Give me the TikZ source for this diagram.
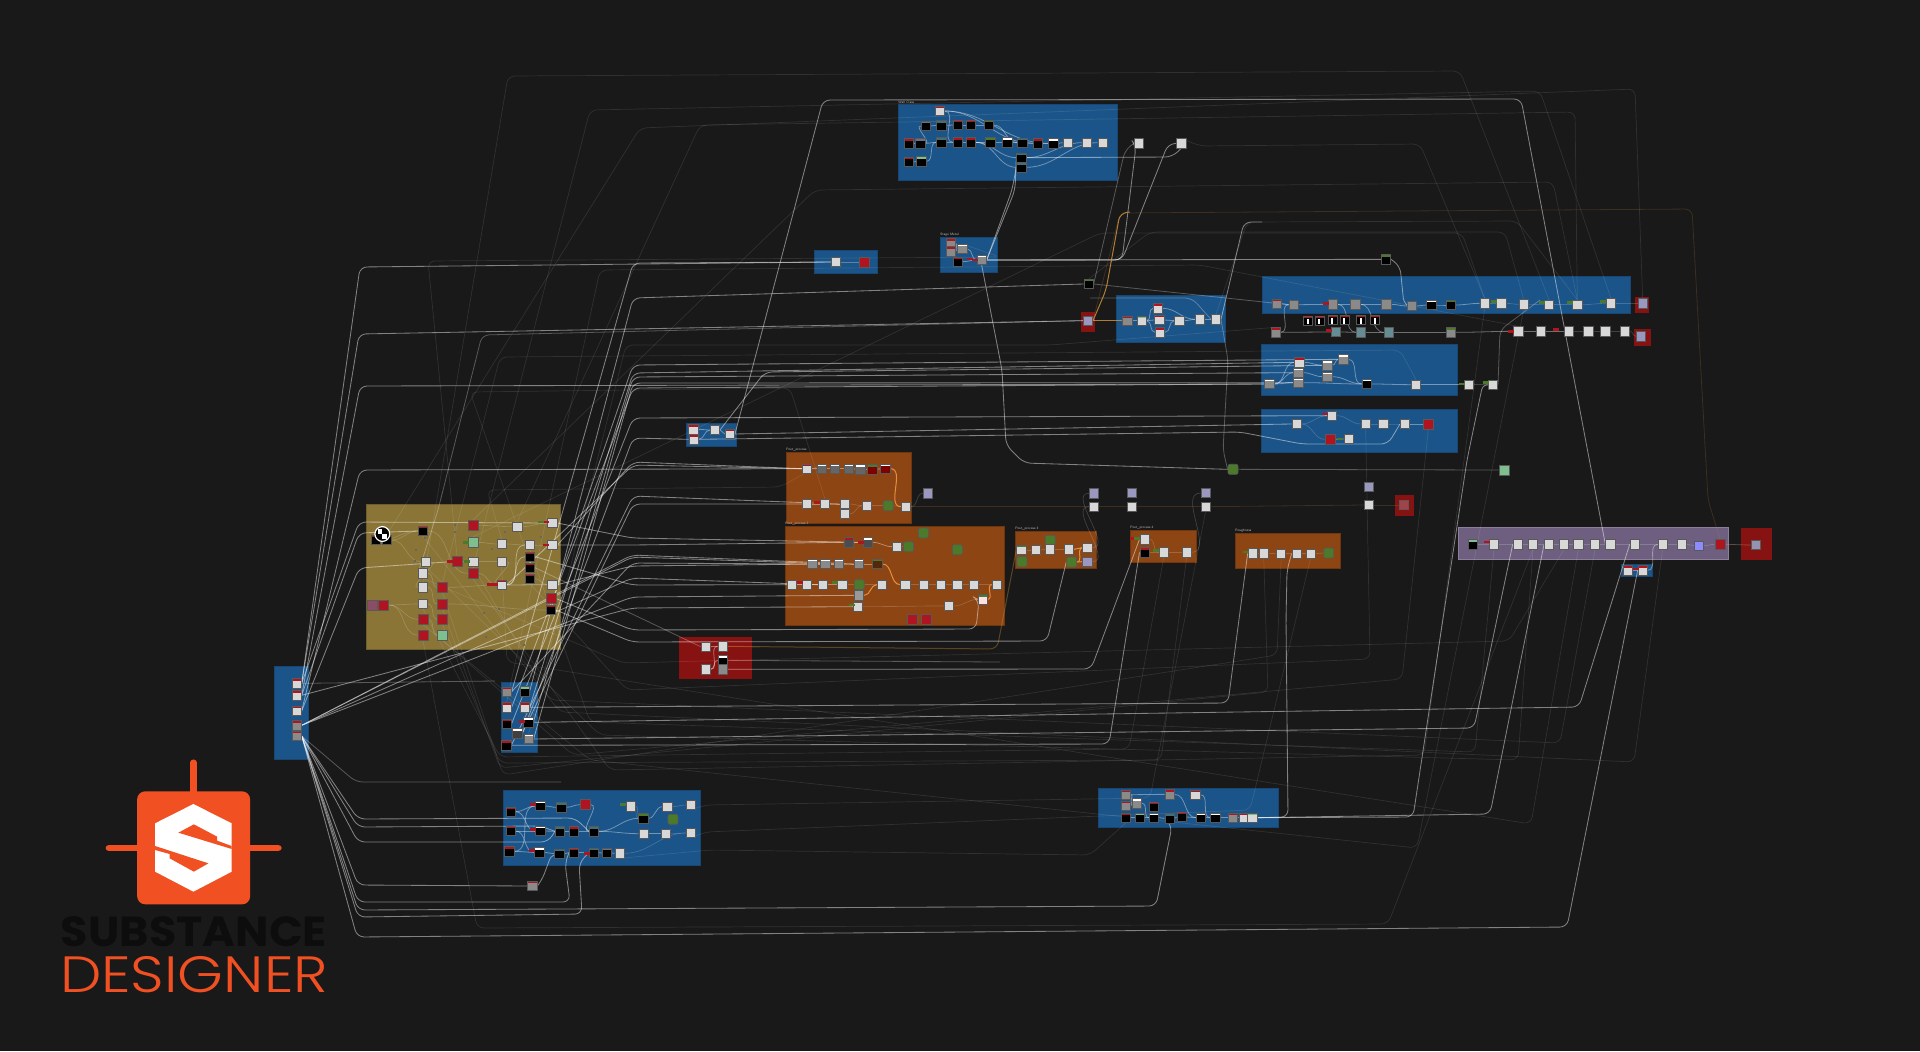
\documentclass[tikz,border=0pt]{standalone}
\usepackage{fontspec}
\newfontfamily\logobold{Poppins}
\newfontfamily\logolight{Poppins}[UprightFont=* Light]

\definecolor{bgdark}{HTML}{191919}
\definecolor{frblue}{HTML}{1B5488}
\definecolor{fryel}{HTML}{8A7537}
\definecolor{frora}{HTML}{8C4513}
\definecolor{frred}{HTML}{871212}
\definecolor{frpur}{HTML}{6E5F80}
\definecolor{logoor}{HTML}{F15023}
\definecolor{nwhite}{HTML}{D8D8D8}
\definecolor{ngrey}{HTML}{8A8A8A}
\definecolor{nred}{HTML}{B01420}
\definecolor{ngreen}{HTML}{4A7A2A}
\definecolor{nmint}{HTML}{7FBF8F}
\definecolor{nteal}{HTML}{3F6F78}
\definecolor{nslate}{HTML}{6A7088}
\definecolor{nlav}{HTML}{9A98C0}

\pgfdeclarelayer{under}
\pgfsetlayers{under,main}

\tikzset{
  frameb/.style={fill=frblue,draw=frblue!85!black,line width=.3pt},
  framey/.style={fill=fryel,draw=fryel!80!black,line width=.4pt},
  frameo/.style={fill=frora,draw=frora!80!black,line width=.3pt},
  framer/.style={fill=frred},
  framep/.style={fill=frpur,draw=frpur!80!white,line width=.3pt},
  gnode/.style={draw=black!65,line width=.4pt,minimum size=4.6pt,inner sep=0pt},
  wn/.style={gnode,fill=nwhite},
  gy/.style={gnode,fill=ngrey},
  bk/.style={gnode,fill=black},
  rn/.style={gnode,fill=nred,minimum size=5pt},
  gn/.style={gnode,fill=ngreen,rounded corners=1pt,minimum size=5pt},
  mn/.style={gnode,fill=nmint,minimum size=5pt},
  lv/.style={gnode,fill=nlav},
  hd/.style={path picture={\pgftransformreset
    \fill[#1] (path picture bounding box.north west) rectangle
      ([yshift=-.9pt]path picture bounding box.north east);}},
  pat/.style={gnode,fill=black,path picture={\pgftransformreset
    \fill[nred] (path picture bounding box.north west) rectangle
      ([yshift=-.9pt]path picture bounding box.north east);
    \fill[white] ([xshift=1.6pt,yshift=-1.3pt]path picture bounding box.north west) rectangle
      ([xshift=2.6pt,yshift=.5pt]path picture bounding box.south west);}},
  chipr/.style={fill=nred,inner sep=0pt,minimum width=3pt,minimum height=1.2pt},
  chipg/.style={fill=ngreen,inner sep=0pt,minimum width=3pt,minimum height=1.2pt},
  dotn/.style={fill=black!60,inner sep=0pt,minimum size=1pt},
  wireb/.style={draw=white,draw opacity=.46,line width=.42pt,rounded corners=3.5pt},
  wirem/.style={draw=white,draw opacity=.28,line width=.4pt,rounded corners=3.5pt},
  wiref/.style={draw=white,draw opacity=.1,line width=.35pt,rounded corners=3.5pt},
  wireo/.style={draw={rgb,255:red,214;green,150;blue,60},draw opacity=.8,line width=.5pt,rounded corners=3.5pt},
  wirefo/.style={draw={rgb,255:red,200;green,130;blue,60},draw opacity=.2,line width=.4pt,rounded corners=3.5pt},
  inw/.style={draw=white,draw opacity=.38,line width=.4pt},
  ino/.style={draw={rgb,255:red,240;green,150;blue,70},draw opacity=.9,line width=.5pt},
  inp/.style={draw=white,draw opacity=.18,line width=.33pt},
  flabel/.style={text=white!75!black,inner sep=0pt,anchor=south west,font=\fontsize{1.7}{2}\selectfont\sffamily},
}

\newcommand{\putnodes}[2]{\foreach \n/\x/\y in {#2} \node[#1] (\n) at (\x,\y) {};}
\newcommand{\links}[2]{\foreach \a/\b in {#2} \draw[#1] (\a.east) to[out=0,in=180] (\b.west);}

\begin{document}
\begin{tikzpicture}[x=.5pt,y=-.5pt,line cap=round,line join=round]
\useasboundingbox (0,0) rectangle (1920,1051);

% Frames
\begin{pgfonlayer}{under}
\fill[bgdark] (0,0) rectangle (1920,1051);
\filldraw[frameb] (898,104) rectangle (1117,180);
\filldraw[frameb] (940,237) rectangle (997,272);
\filldraw[frameb] (814,250) rectangle (877,273);
\filldraw[frameb] (686,423) rectangle (736,446);
\filldraw[frameb] (1116,295) rectangle (1225,342);
\filldraw[frameb] (1262,276) rectangle (1630,313);
\filldraw[frameb] (1261,344) rectangle (1457,395);
\filldraw[frameb] (1261,409) rectangle (1457,452);
\filldraw[frameb] (274,666) rectangle (308,759);
\filldraw[frameb] (501,682) rectangle (537,752);
\filldraw[frameb] (503,790) rectangle (700,865);
\filldraw[frameb] (1098,788) rectangle (1278,827);
\filldraw[frameb] (1621,564) rectangle (1652,576);
\filldraw[framey] (366,504) rectangle (560,649);
\filldraw[frameo] (786,452) rectangle (911,523);
\filldraw[frameo] (785,526) rectangle (1004,625);
\filldraw[frameo] (1015,531) rectangle (1096,568);
\filldraw[frameo] (1130,530) rectangle (1196,562);
\filldraw[frameo] (1235,533) rectangle (1340,568);
\filldraw[framep] (1458,527) rectangle (1728,559);
\fill[framer] (679,637) rectangle (752,679);
\fill[framer] (1081,312) rectangle (1095,332);
\fill[framer] (1395,495) rectangle (1414,516);
\fill[framer] (1635,297) rectangle (1649,313);
\fill[framer] (1634,329) rectangle (1651,346);
\fill[framer] (1741,528) rectangle (1772,560);
\end{pgfonlayer}

% Frame titles
\node[flabel] (lb0) at (898,103.5) {Wall Class};
\node[flabel] (lb9) at (940,236.5) {Stage Metal};
\node[flabel] (lb10) at (786,451.5) {Post\_process};
\node[flabel] (lb11) at (785,525.5) {Post\_process 2};
\node[flabel] (lb12) at (1015,530.5) {Post\_process 3};
\node[flabel] (lb13) at (1130,529.5) {Post\_process 4};
\node[flabel] (lb14) at (1235,532.5) {Roughness};

% Wall block
\begin{scope}[shift={(880,90)},scale=.3333]
\putnodes{wn,hd=nred}{tw1/179/63}
\putnodes{wn}{tw2/563/158,tw3/621/158,tw4/668/158,tw5/777/160,tw6/904/160}
\putnodes{bk,hd=nslate}{ta1/137/108,tb2/121/160}
\putnodes{bk,hd=nteal}{ta2/184/106,tb3/184/157,tb8/427/158,td1/424/203,td2/424/232}
\putnodes{bk,hd=nred}{ta3/234/105,ta4/272/105,tb1/87/160,tb4/234/157,tb5/272/157,tb9/474/160,tc1/87/216}
\putnodes{bk,hd=ngreen}{ta5/326/105,tb6/331/157,tk1/626/582}
\putnodes{bk,hd=white}{tb7/382/157,tb10/520/160}
\putnodes{bk,hd=nmint}{tc2/124/214}
\putnodes{gy,hd=nred}{sm1/212/460,sm2/212/484}
\putnodes{gy,hd=white}{sm3/247/477,sm5/305/510}
\putnodes{bk,hd=nred}{sm4/234/515}
\putnodes{chipr}{cc1/270/507,cc2/285/510}
\end{scope}
\putnodes{wn}{ts1/836/262}
\putnodes{rn}{ts2/864/262}

% Small block under the title row
\begin{scope}[shift={(300,240)},scale=.3333]
\putnodes{wn,hd=nred}{sf1/1180/568,sf2/1181/598,sf4/1290/582}
\putnodes{wn}{sf3/1245/570}
\end{scope}

% Metal block
\begin{scope}[shift={(1090,200)},scale=.3333]
\putnodes{lv}{rc/-6/362}
\putnodes{gy,hd=nred}{tf1/112/362}
\putnodes{wn,hd=nmint}{tf2/155/362}
\putnodes{wn,hd=nred}{tf3/204/325,tf4/208/360,tf5/210/397}
\putnodes{wn}{tf6/268/362,tf7/330/358,tf8/378/358}
\end{scope}

% Long blue block
\begin{scope}[shift={(1240,260)},scale=.3333]
\putnodes{gy,hd=nred}{l1/110/131,r1/107/217}
\putnodes{gy}{l2/161/134,l3/278/133,l4/346/133,l5/439/133,l6/515/138}
\putnodes{bk,hd=white}{l7/574/135}
\putnodes{bk,hd=ngreen}{l8/632/135,gbk/438/-2}
\putnodes{wn}{l9/734/130,l10/784/130,l11/851/133,l12/927/134,l13/1012/134,l14/1113/130}
\putnodes{lv}{bc1/1208/130,bc2/1203/229}
\putnodes{gnode,fill=nteal!80!white}{r2/288/216,r3/363/217,r4/447/217}
\putnodes{gy,hd=ngreen}{r5/632/217}
\putnodes{wn}{r6/835/214,r7/902/214,r8/986/214,r9/1045/214,r10/1096/214,r11/1155/214}
\putnodes{pat}{p1/204/182,p2/239/182,p3/278/180,p4/314/180,p5/363/180,p6/405/180}
\putnodes{wn,hd=nred}{mf1/178/307}
\putnodes{gy,hd=white}{mf2/262/316,mf3/262/350,mf4/310/298,mf5/175/338,mf6/175/368,mf7/88/372}
\putnodes{bk,hd=white}{mf8/380/372}
\putnodes{wn}{mf9/528/374,mf10/687/374,mf11/759/374}
\putnodes{wn}{lf1/276/467,lf2/170/492,lf3/377/492,lf4/430/492,lf5/495/492,lf7/326/537}
\putnodes{rn}{lf6/270/538,lf8/565/492}
\putnodes{chipr}{cl1/258/130,cl2/948/209,cl3/255/462,cl4/268/212,cl5/814/214}
\putnodes{chipg}{cl6/762/125,cl7/905/128,cl8/990/128,cl9/1090/125,cl10/300/537,cl11/665/372,cl12/737/368}
\end{scope}

% Yellow block, left column and middle blue block
\begin{scope}[shift={(260,480)},scale=.3333]
\putnodes{wn}{yw1/877/129,yw2/772/140,yw3/877/195,yw4/725/192,yw5/810/195,yw6/725/245,yw7/497/245,yw8/640/245,yw9/489/280,yw10/489/322,yw11/489/372,yw12/877/314}
\putnodes{rn}{yr1/639/136,yr2/591/245,yr3/639/280,yr4/548/322,yr5/548/372,yr6/489/418,yr7/548/418,yr8/489/465,yr9/873/356,yr10/371/375}
\putnodes{mn}{yg1/639/187,yg2/548/465}
\putnodes{gnode,fill=frpur!80!red,minimum size=5pt}{yp/338/376}
\putnodes{bk,hd=nred}{yb1/489/153,yb2/810/230,yb3/810/263,yb4/810/296,yb5/873/390,yk1/347/180,yk2/380/180}
\putnodes{wn,hd=nred}{ys/725/315}
\node[circle,draw=white,fill=black,line width=.6pt,minimum size=7.4pt,inner sep=0pt] (yc) at (367,162) {};
\fill[white] (353,148) rectangle (367,162);
\fill[white] (367,162) rectangle (381,176);
\putnodes{chipr}{cy1/570/245,cy2/857/126,cy3/857/195,cy4/690/314,cy5/705/314}
\putnodes{chipg}{cy6/620/245,cy7/618/187,cy8/842/126}
\putnodes{dotn}{dy1/585/135,dy2/585/155,dy3/495/175,dy4/467/210,dy5/464/243,dy6/735/155,dy7/697/207,dy8/843/170,dy9/717/386,dy10/672/400,dy11/678/470,dy12/793/495}
\putnodes{wn,hd=nred}{lb1/110/610,lb2/110/646,lb3/110/693}
\putnodes{gy,hd=nred}{lb4/110/736,lb5/110/768}
\putnodes{gy,hd=nred}{mb1/740/635}
\putnodes{bk,hd=nmint}{mb2/794/634}
\putnodes{wn,hd=nred}{mb3/740/682,mb4/794/682}
\putnodes{bk,hd=nred}{mb5/740/731,mb9/739/796}
\putnodes{bk,hd=white}{mb6/805/727}
\putnodes{gnode,fill=black!75,hd=white}{mb7/772/760}
\putnodes{gy,hd=white}{mb8/806/777}
\putnodes{chipr}{cm1/785/725}
\putnodes{wn}{rf1/1337/500,rf2/1388/499,rf3/1337/568}
\putnodes{bk,hd=white}{rf4/1388/541}
\putnodes{gy}{rf5/1388/568}
\end{scope}

% Orange blocks
\begin{scope}[shift={(760,430)},xscale=.357,yscale=.3333]
\putnodes{wn,hd=nred}{oa1/131/116}
\putnodes{gnode,fill=black!60,hd=white}{oa2/174/116,oa3/209/116,oa4/248/116,oa5/281/118}
\putnodes{gnode,fill=red!50!black,hd=ngreen}{oa6/315/118}
\putnodes{gnode,fill=red!50!black,hd=white}{oa7/351/116}
\putnodes{wn}{oa8/131/222,oa9/182/222,oa10/237/222,oa11/238/252,oa12/300/227,oa14/409/230}
\putnodes{gn}{oa13/359/227,ob2/416/350,ob3/458/309,ob4/553/359,ob5/278/464,oj6/813/331,oj7/734/395,oj8/873/396,gr1/1325/118,oh6/1593/369}
\putnodes{lv}{pv1/470/190,pv2/935/190,pv3/1042/189,pv4/1248/189,oj9/917/395}
\putnodes{wn}{q1/935/230,q2/1042/230,q3/1248/230}
\putnodes{gnode,fill=black!70,hd=nred}{od1/248/337}
\putnodes{gnode,fill=black!70,hd=white}{od2/302/337}
\putnodes{gy,hd=white}{oc1/147/402,oc2/183/402,oc3/222/402,oc4/278/402}
\putnodes{gnode,fill=frora!60!black,hd=ngreen}{oc5/329/402}
\putnodes{wn}{ob1/384/350,ow1/89/464,ow2/132/464,ow3/176/464,ow4/231/464,ow5/341/464,ow6/407/464,ow7/458/464,ow8/506/464,ow9/553/464,ow10/600/464,ow11/663/464,ow12/275/530,ow13/529/528}
\putnodes{gnode,fill=black!40}{op/278/496}
\putnodes{gnode,fill=red!12!white,hd=ngreen}{pk/624/508}
\putnodes{rn}{or1/428/568,or2/467/568}
\putnodes{wn,hd=ngreen}{oj1/732/360}
\putnodes{wn}{oj2/773/360,oj3/813/358,oj4/865/358,oj5/917/353,ok1/1077/328,ok3/1131/367,ok4/1195/367}
\putnodes{bk,hd=nred}{ok2/1077/367}
\putnodes{wn}{oh1/1380/370,oh2/1411/370,oh3/1460/371,oh4/1503/371,oh5/1542/371}
\putnodes{chipr}{co1/160/217,co2/113/458,co3/283/337,co4/1046/325}
\putnodes{chipg}{co5/210/458,co6/257/525,co7/1056/325,co8/1110/362,co9/1360/366}
\end{scope}

% Extra pair with red box
\putnodes{lv}{pv5/1369/487}
\putnodes{wn}{q4/1369/505}
\putnodes{gnode,fill=nred!60!ngrey}{rb1/1404/505}
\putnodes{mn}{gr2/1504/470}

% Purple block
\begin{scope}[shift={(1440,500)},scale=.3333]
\putnodes{bk,hd=nmint}{pa/98/133}
\putnodes{wn}{pu1/162/133,pu2/233/133,pu3/279/133,pu4/327/133,pu5/372/133,pu6/415/133,pu7/465/133,pu8/511/133,pu9/584/133,pu10/668/133,pu11/726/133}
\putnodes{gnode,fill=blue!45!white}{pb/777/137}
\putnodes{rn}{pr/840/133}
\putnodes{gnode,fill=nlav!70!ngrey}{pz/947/135}
\putnodes{wn,hd=nred}{sb1/564/211,sb2/608/211}
\putnodes{chipr}{cp1/142/126,cp2/588/207}
\end{scope}

% Bottom blue block
\begin{scope}[shift={(490,770)},scale=.3333]
\putnodes{bk,hd=nred}{b1/62/125,b10/62/183,b18/58/244,b13/252/184,b21/252/248}
\putnodes{bk,hd=white}{b2/151/108,b11/151/183,b19/148/247}
\putnodes{bk,hd=nteal}{b3/214/112,b12/210/184,b14/312/184,b20/208/251,b22/312/248}
\putnodes{rn}{b4/286/104}
\putnodes{wn}{b5/423/109,b6/532/110,b7/602/105,b15/461/191,b16/528/191,b17/602/189,b24/389/250}
\putnodes{bk,hd=ngreen}{b8/460/145}
\putnodes{gn}{b9/549/148}
\putnodes{bk,hd=nslate}{b23/351/249}
\putnodes{gy,hd=nred}{bg/127/348}
\putnodes{chipr}{cb1/130/103,cb2/130/178,cb3/127/241,cb4/292/250}
\putnodes{chipg}{cb5/400/103}
\end{scope}

% Lower right blue block
\begin{scope}[shift={(1090,780)},scale=.3333]
\putnodes{gy,hd=nred}{h1/108/44,h2/239/43,h4/108/77}
\putnodes{wn,hd=nred}{h3/316/44}
\putnodes{gy,hd=white}{h5/141/70}
\putnodes{bk,hd=nred}{h6/192/80,h7/108/113,h11/275/111}
\putnodes{bk,hd=nmint}{h8/150/113}
\putnodes{bk,hd=white}{h9/192/113,h12/333/113,h13/376/113}
\putnodes{bk,hd=nteal}{h10/239/115}
\putnodes{gy,hd=nred}{h14/429/113}
\putnodes{wn,hd=nred}{h15/462/113}
\putnodes{wn,hd=nmint}{h16/487/113}
\end{scope}

% Links inside the blocks
\begin{pgfonlayer}{under}
\links{inw}{tb1/tb2,tb2/ta1,tb2/tb3,ta1/ta2,ta2/ta3,ta3/ta4,ta4/ta5,tb3/tb4,tb4/tb5,tb5/tb6,tb6/tb7,tb7/tb8,tb8/tb9,tb9/tb10,tb10/tw2,tc1/tc2,tc2/tb3,ta5/tb8,tw1/tb4,tw1/tb10,tw1/tb9,tb5/td1,tb5/td2,td1/tw3,td2/tw4}
\links{inw}{sm1/sm3,sm2/sm3,sm3/sm5,sm4/sm5}
\links{inw}{sf1/sf3,sf2/sf3,sf3/sf4}
\links{inw}{tf1/tf2,tf2/tf3,tf2/tf4,tf2/tf5,tf3/tf7,tf4/tf6,tf5/tf6,tf6/tf7,tf7/tf8}
\links{inw}{l1/l2,l2/l3,l3/l4,l4/l5,l5/l6,l6/l7,l7/l8,l8/l9,r1/l2,r1/r2,r2/r3,r3/r4,r4/r5,l3/r3,l4/r4}
\links{inp}{l9/l10,l10/l11,l11/l12,l12/l13,l13/l14,l14/bc1}
\links{inw}{r5/r6,r6/r7,r7/r8}
\links{inp}{r8/r9,r9/r10,r10/r11,r11/bc2}
\links{inw}{mf7/mf1,mf7/mf5,mf7/mf6,mf6/mf8,mf5/mf3,mf1/mf2,mf2/mf4,mf3/mf8,mf4/mf8,mf8/mf9}
\links{inp}{mf9/mf10,mf10/mf11,lf2/lf1,lf2/lf6,lf1/lf3,lf3/lf4,lf6/lf7,lf5/lf8,lf4/lf5}
\links{inw}{sb1/sb2,sb2/pu10}
\links{inp}{pa/pu1,pu1/pu2,pu2/pu3,pu3/pu4,pu4/pu5,pu5/pu6,pu6/pu7,pu7/pu8,pu8/pu9,pu9/pu10,pu10/pu11,pu11/pb,pb/pr,pr/pz}
\links{inw}{b1/b2,b1/b11,b2/b3,b3/b4,b10/b11,b11/b12,b12/b13,b13/b14,b14/b8,b8/b6,b14/b15,b15/b16,b18/b19,b19/b20,b20/b21,b21/b22,b22/b23,b23/b24,b10/b19,b18/b2,b4/b14}
\links{inp}{b5/b8,b6/b7,b16/b17,b24/b17}
\links{inw}{h1/h2,h2/h12,h3/h13,h1/h5,h4/h5,h5/h9,h7/h8,h8/h9,h9/h10,h10/h11,h11/h12,h12/h13,h13/h14,h14/h15,h15/h16}
% yellow
\links{inp}{yk1/yb1,yk2/yb1,yk2/yw7,yw7/yw10,yp/yr10,yr10/yw11,yr10/yr6,yr10/yr8,yw9/yr4,yw10/yr5,yw11/yr7,yr6/yg2,yb1/yr3,yr2/yw8,yw8/yw6,yr1/yw2,yg1/yw4,yw4/yw5,yw6/ys,yw5/yw3,yw2/yw1,yb4/yw12,yr3/ys,yr4/ys,yr5/yb5}
\links{inw}{ys/yw5,ys/yw12,ys/yb2}
\links{inw}{rf1/rf2,rf3/rf4,rf3/rf2}
% orange
\links{inw}{oa1/oa2,oa2/oa3,oa3/oa4,oa4/oa5,oa5/oa6,oa6/oa7,oa8/oa9,oa9/oa10,od1/od2,od2/ob1,oc1/oc2,oc2/oc3,oc3/oc4,oc4/oc5,ow1/ow2,ow2/ow3,ow3/ow4}
\links{inp}{oa10/oa12,oa12/oa13,oa11/oa12,ob1/ob2,ow4/ow5,ow6/ow7,ow7/ow8,ow8/ow9,ow9/ow10,ow10/ow11,oa13/oa14,oj1/oj2,oj2/oj3,oj3/oj4,ok2/ok3,ok3/ok4,oh1/oh2,oh2/oh3,oh3/oh4,oh4/oh5,oh5/oh6,ok1/ok3,ow12/ow13,ow13/pk}
\links{ino}{oa7/oa14,oc5/ow6,op/ow5,pk/ow11,oj8/oj5,oj8/oj9,oj4/oj5}
\links{inp}{oa14/pv1,oj5/pv2,ok4/pv4,oj9/q1}
\draw[wirefo] (oa14.east) -- (q1.west);
\draw[wirefo] (q1.east) -- (q2.west);
\draw[wirefo] (q2.east) -- (q3.west);
\draw[wirefo] (q3.east) -- (q4.west);
\draw[wirefo] (q4.east) -- (rb1.west);
\draw[wirefo] (pr.east) -- (pz.west);
\draw[wireo] (rc.east) -- (tf1.west);

% Left column going up
\draw[wireb] (lb1.east) -- (360,267) -- (ts1.west);
\draw[wireb] (lb1.east) -- (359,334) -- (rc.west);
\draw[wireb] (lb2.east) -- (360,386) -- (mf7.west);
\draw[wireb] (lb3.east) -- (360,470) -- (oa1.west);
\draw[wireb] (lb1.east) -- (359,522) -- (yw1.west);
\draw[wireb] (lb2.east) -- (359,533) -- (yb1.west);
\draw[wireb] (lb3.east) -- (359,568) -- (yr2.west);
\draw[wirem] (yw9.west) -- (438,510) -- (482,335) -- (rc.west);
\draw[wirem] (lb1.east) -- (495,681);

% Left column going down
\draw[wirem] (lb5.east) -- (356,782) -- (561,782);
\draw[wireb] (lb5.east) -- (358,819) -- (575,818) -- (b14.west);
\draw[wireb] (lb5.east) -- (358,827) -- (540,826) -- (b12.west);
\draw[wireb] (lb5.east) -- (358,842) -- (548,842) -- (b12.west);
\draw[wireb] (lb5.east) -- (358,885) -- (bg.west);
\draw[wireb] (bg.east) -- (542,880) -- (552,853) -- (b20.west);
\draw[wireb] (lb5.east) -- (358,902) -- (570,902) -- (565,863) -- (b21.west);
\draw[wireb] (lb5.east) -- (358,910) -- (1156,906) -- (1172,826) -- (h10.south);
\draw[wireb] (lb5.east) -- (358,917) -- (582,914) -- (579,863) -- (b22.west);
\draw[wireb] (lb5.east) -- (357,937) -- (1567,927) -- (sb2.west);

% Fans to the elbows at x=632
\draw[wireb] (mb1.east) -- (633,263) -- (ts1.west);
\draw[wireb] (mb2.east) -- (633,298) -- (tk1.west);
\draw[wireb] (yw12.east) -- (633,365) -- (mf4.west);
\draw[wireb] (mb4.east) -- (633,373) -- (mf1.west);
\draw[wireb] (mb6.east) -- (633,377) -- (mf5.west);
\draw[wireb] (mb8.east) -- (633,383) -- (mf6.west);
\draw[wireb] (mb3.east) -- (633,388) -- (mf7.west);
\draw[wireb] (mb5.east) -- (633,418) -- (lf1.west);
\draw[wireb] (mb7.east) -- (633,438) -- (sf2.west);
\draw[wireb] (yw3.east) -- (633,462) -- (oa1.west);
\draw[wireb] (ys.east) -- (633,465) -- (oa1.west);
\draw[wireb] (mb9.east) -- (633,496) -- (oa10.west);
\draw[wireb] (mb7.east) -- (633,504) -- (oa8.west);
\draw[wireb] (yw1.east) -- (632,538) -- (od2.west);
\draw[wireb] (yw3.east) -- (632,545) -- (od1.west);
\draw[wireb] (lb4.east) -- (632,555) -- (oc4.west);
\draw[wireb] (lb4.east) -- (632,557) -- (oc3.west);
\draw[wireb] (mb1.east) -- (632,563) -- (oc1.west);
\draw[wireb] (yw12.east) -- (632,566) -- (oc2.west);
\draw[wireb] (lb4.east) -- (632,578) -- (ow3.west);
\draw[wireb] (yb2.east) -- (632,585) -- (ow1.west);
\draw[wireb] (lb4.east) -- (632,597) -- (op.west);
\draw[wireb] (lb2.east) -- (632,608) -- (ow12.west);
\draw[wireb] (yr9.east) -- (632,630) -- (976,629) -- (979,600) -- (pk.west);
\draw[wireb] (yb5.east) -- (632,642) -- (1047,641) -- (oj8.west);
\draw[wirem] (yb3.east) -- (rf1.west);

% Long runs to the right
\draw[wireb] (mb4.east) -- (1228,703) -- (oh1.west);
\draw[wireb] (mb6.east) -- (1579,707) -- (pu9.west);
\draw[wireb] (mb8.east) -- (1474,728) -- (pu2.west);
\draw[wireb] (mb9.east) -- (1109,744) -- (ok2.west);
\draw[wireb] (rf5.east) -- (1091,669) -- (ok1.west);
\draw[wirem] (rf4.east) -- (1000,662);
\draw[wirefo] (rf2.east) -- (760,647);
\draw[wireo,draw opacity=.35] (rf2.east) -- (997,649) -- (oj1.west);
\draw[wireb] (h16.east) -- (1288,817) -- (1286,620) -- (1287,570) -- (oh4.west);
\draw[wireb] (h16.east) -- (1413,817) -- (1467,460) -- (1483,383) -- (mf11.west);
\draw[wireb] (h16.east) -- (1490,814) -- (pu4.west);
\draw[wirem] (mf10.west) -- (mf9.east);

% Upper arcs
\draw[wireb] (sf4.east) -- (823,100) -- (1521,99) -- (pu8.west);
\draw[wireb] (sf3.east) -- (765,372) -- (mf2.west);
\draw[wireb] (sf2.east) -- (1240,432) -- (1302,444) -- (1388,444) -- (lf5.west);
\draw[wireb] (sf4.east) -- (lf2.west);
\draw[wireb] (sm5.east) -- (1015,190) -- (td1.west);
\draw[wireb] (sm5.east) -- (1012,190) -- (td2.west);
\draw[wireb] (sm5.east) -- (1122,260) -- (1136,146) -- (tw5.west);
\draw[wireb] (sm5.east) -- (1122,260) -- (1168,144) -- (tw6.west);
\draw[wireb] (sm5.east) -- (gbk.west);
\draw[wireb] (gbk.east) -- (1400,266) -- (1404,305) -- (l6.west);
\draw[wireb] (td1.east) -- (1172,157) -- (tw6.south);
\draw[wirem] (tk1.east) -- (l2.west);
\draw[wirem] (tk1.east) -- (1125,150) -- (tw5.west);
\draw[wireb] (sm5.south) -- (1002,370) -- (1006,445) -- (1024,463) -- (gr1.west);
\draw[wirem] (gr1.east) -- (gr2.west);
\draw[wireb] (tf8.east) -- (1244,222) -- (1262,222);
\draw[wirem] (tf8.east) -- (1228,360) -- (1223,450) -- (gr1.west);
\draw[wirem] (1090,298) -- (1192,298) -- (tf8.west);
\draw[wireo] (rc.east) -- (1106,290) -- (1120,213) -- (1130,212);
\draw[wirefo] (rc.east) -- (1120,213) -- (1692,209) -- (1708,500) -- (pr.north);
\draw[wirem] (ts1.east) -- (ts2.west);
\draw[wirem] (mf11.east) -- (1500,330) -- (1540,300);
\draw[wirem] (lf6.east) -- (lf7.west);
\draw[wirem] (lf5.east) -- (lf8.west);

% Faint runs, top
\foreach \s/\xa/\ya/\xb/\yb/\d in {
  yw10/508/76/1460/71/l12,
  yr3/590/110/1540/91/l14,
  yk2/640/128/1635/89/bc1,
  yw2/700/125/1575/112/l13,
  tw6/1200/146/1420/144/l9,
  yr1/815/190/1553/182/l13,
  tf8/1247/222/1517/221/l13,
  tk1/1150/232/1505/232/l11,
  yg1/1100/233/1462/233/l9,
  yr4/500/357/1400/350/mf9,
  yb3/470/392/790/388/oa9,
  yw4/487/490/780/487/oa2,
  mb3/600/270/1200/265/r6,
  mb8/626/345/1050/345/r1,
  yr2/428/261/1000/257/sm3} {
  \draw[wiref] (\s.north) -- (\xa,\ya) -- (\xb,\yb) -- (\d.north);
}

% Faint runs, bottom
\foreach \s/\xa/\ya/\xb/\yb/\d in {
  yr8/477/928/1388/924/pu3,
  yw11/500/757/1129/749/ok3,
  yr7/500/763/1161/760/ok4,
  yr5/500/768/1268/692/oh2,
  yr4/503/775/1277/655/oh3,
  yg2/573/755/1402/679/lf8,
  yb4/627/690/1370/659/lf3,
  yw9/623/663/1509/641/pu5,
  yw6/507/662/1531/824/pu6,
  yw8/550/700/1560/743/pu7,
  yb1/560/712/1634/762/pu10,
  yw5/590/722/1475/752/pu1,
  yw7/600/735/1518/760/pu3,
  yr6/590/760/1417/848/l11,
  yr3/610/770/1424/755/l9,
  b7/705/805/1150/798/q3,
  b17/705/832/1250/810/oh5,
  b24/710/850/1090/855/h7} {
  \draw[wiref] (\s.south) -- (\xa,\ya) -- (\xb,\yb) -- (\d.south);
}
\end{pgfonlayer}

% Logo
\begin{scope}[shift={(0,720)},xscale=.4847,yscale=.3333]
\fill[logoor,rounded corners=4pt] (283,214) rectangle (516,553);
\draw[logoor,line width=3.2pt] (399,128) -- (399,214);
\draw[logoor,line width=3.4pt] (225,384) -- (283,384);
\draw[logoor,line width=3.4pt] (516,384) -- (574,384);
\fill[white] (399,252) -- (478,310) -- (478,455) -- (399,515) -- (320,455) -- (320,310) -- cycle;
\fill[logoor] (400,313) -- (448,350) -- (448,362) -- (478,378) -- (478,387) -- (368,338) -- cycle;
\fill[logoor] (320,378) -- (430,430) -- (400,455) -- (350,415) -- (350,402) -- (320,390) -- cycle;
\end{scope}
\node[text=black!95,inner sep=0pt] (substance) at (194,932) {\scalebox{1.06}[1]{\fontsize{21}{24}\selectfont\logobold\bfseries SUBSTANCE}};
\node[text=logoor,inner sep=0pt] (designer) at (194,975) {\scalebox{1.15}[1]{\fontsize{25.5}{28}\selectfont\logolight DESIGNER}};

\end{tikzpicture}
\end{document}
